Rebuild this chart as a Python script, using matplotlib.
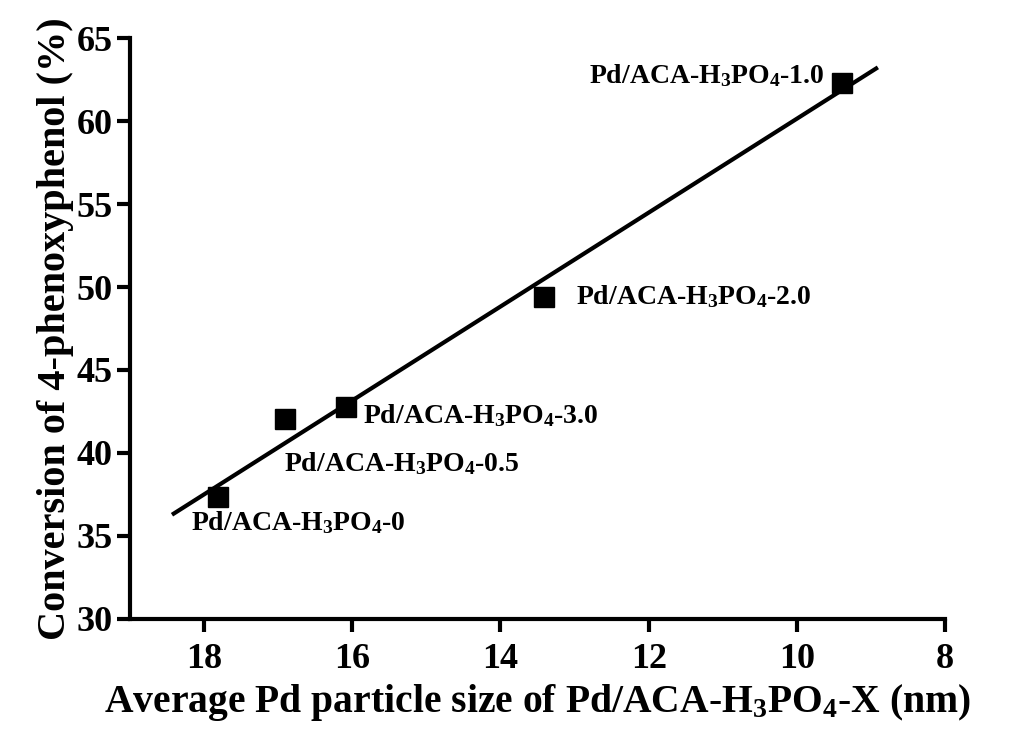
import numpy as np
import matplotlib
matplotlib.use("Agg")
import matplotlib.pyplot as plt

# Data
sizes = [9.39, 13.41, 16.09, 16.91, 17.81]
conversions = [62.3, 49.4, 42.8, 42.05, 37.35]
labels = [r'Pd/ACA-H$_3$PO$_4$-1.0', r'Pd/ACA-H$_3$PO$_4$-2.0', r'Pd/ACA-H$_3$PO$_4$-3.0',
          r'Pd/ACA-H$_3$PO$_4$-0.5', r'Pd/ACA-H$_3$PO$_4$-0']
fit_range = [18.41, 8.93]
x_ticks = [18, 16, 14, 12, 10, 8]
y_ticks = [30, 35, 40, 45, 50, 55, 60, 65]

plt.rcParams['font.family'] = ['Liberation Serif', 'DejaVu Serif']
plt.rcParams['font.weight'] = 'bold'
plt.rcParams['mathtext.fontset'] = 'custom'
plt.rcParams['mathtext.rm'] = 'Liberation Serif:bold'
plt.rcParams['mathtext.default'] = 'regular'

fig = plt.figure(figsize=(10.19, 7.34), dpi=100)
ax = fig.add_axes([0.1276, 0.1567, 0.7998, 0.7915])

slope, intercept = np.polyfit(sizes, conversions, 1)
fx = np.array(fit_range)
ax.plot(fx, slope * fx + intercept, color='black', lw=3, zorder=2)
ax.plot(sizes, conversions, 's', color='black', ms=14, zorder=3)

offsets = [(-17, 7, 'right'), (32, 0, 'left'), (17, -9, 'left'), (-1, -45, 'left'), (-27, -26, 'left')]
for x, y, lab, (dx, dy, ha) in zip(sizes, conversions, labels, offsets):
    ax.annotate(lab, xy=(x, y), xytext=(dx, dy), textcoords='offset pixels',
                ha=ha, va='center', fontsize=20, fontweight='bold')

ax.set_xlim(19, 8)
ax.set_ylim(30, 65)
ax.set_xticks(x_ticks)
ax.set_yticks(y_ticks)
ax.set_xticklabels([str(t) for t in x_ticks])
ax.set_yticklabels([str(t) for t in y_ticks])

for s in ['top', 'right']:
    ax.spines[s].set_visible(False)
for s in ['left', 'bottom']:
    ax.spines[s].set_linewidth(3)
ax.tick_params(axis='both', direction='out', length=9.5, width=3, labelsize=26, pad=3)
ax.tick_params(axis='x', pad=8)
for lab in ax.get_xticklabels() + ax.get_yticklabels():
    lab.set_fontweight('bold')

ax.set_xlabel(r'Average Pd particle size of Pd/ACA-H$_3$PO$_4$-X (nm)', fontsize=28.5,
              fontweight='bold', labelpad=4)
ax.set_ylabel('Conversion of 4-phenoxyphenol (%)', fontsize=29, fontweight='bold', labelpad=2)

fig.savefig('out.png', dpi=100)
